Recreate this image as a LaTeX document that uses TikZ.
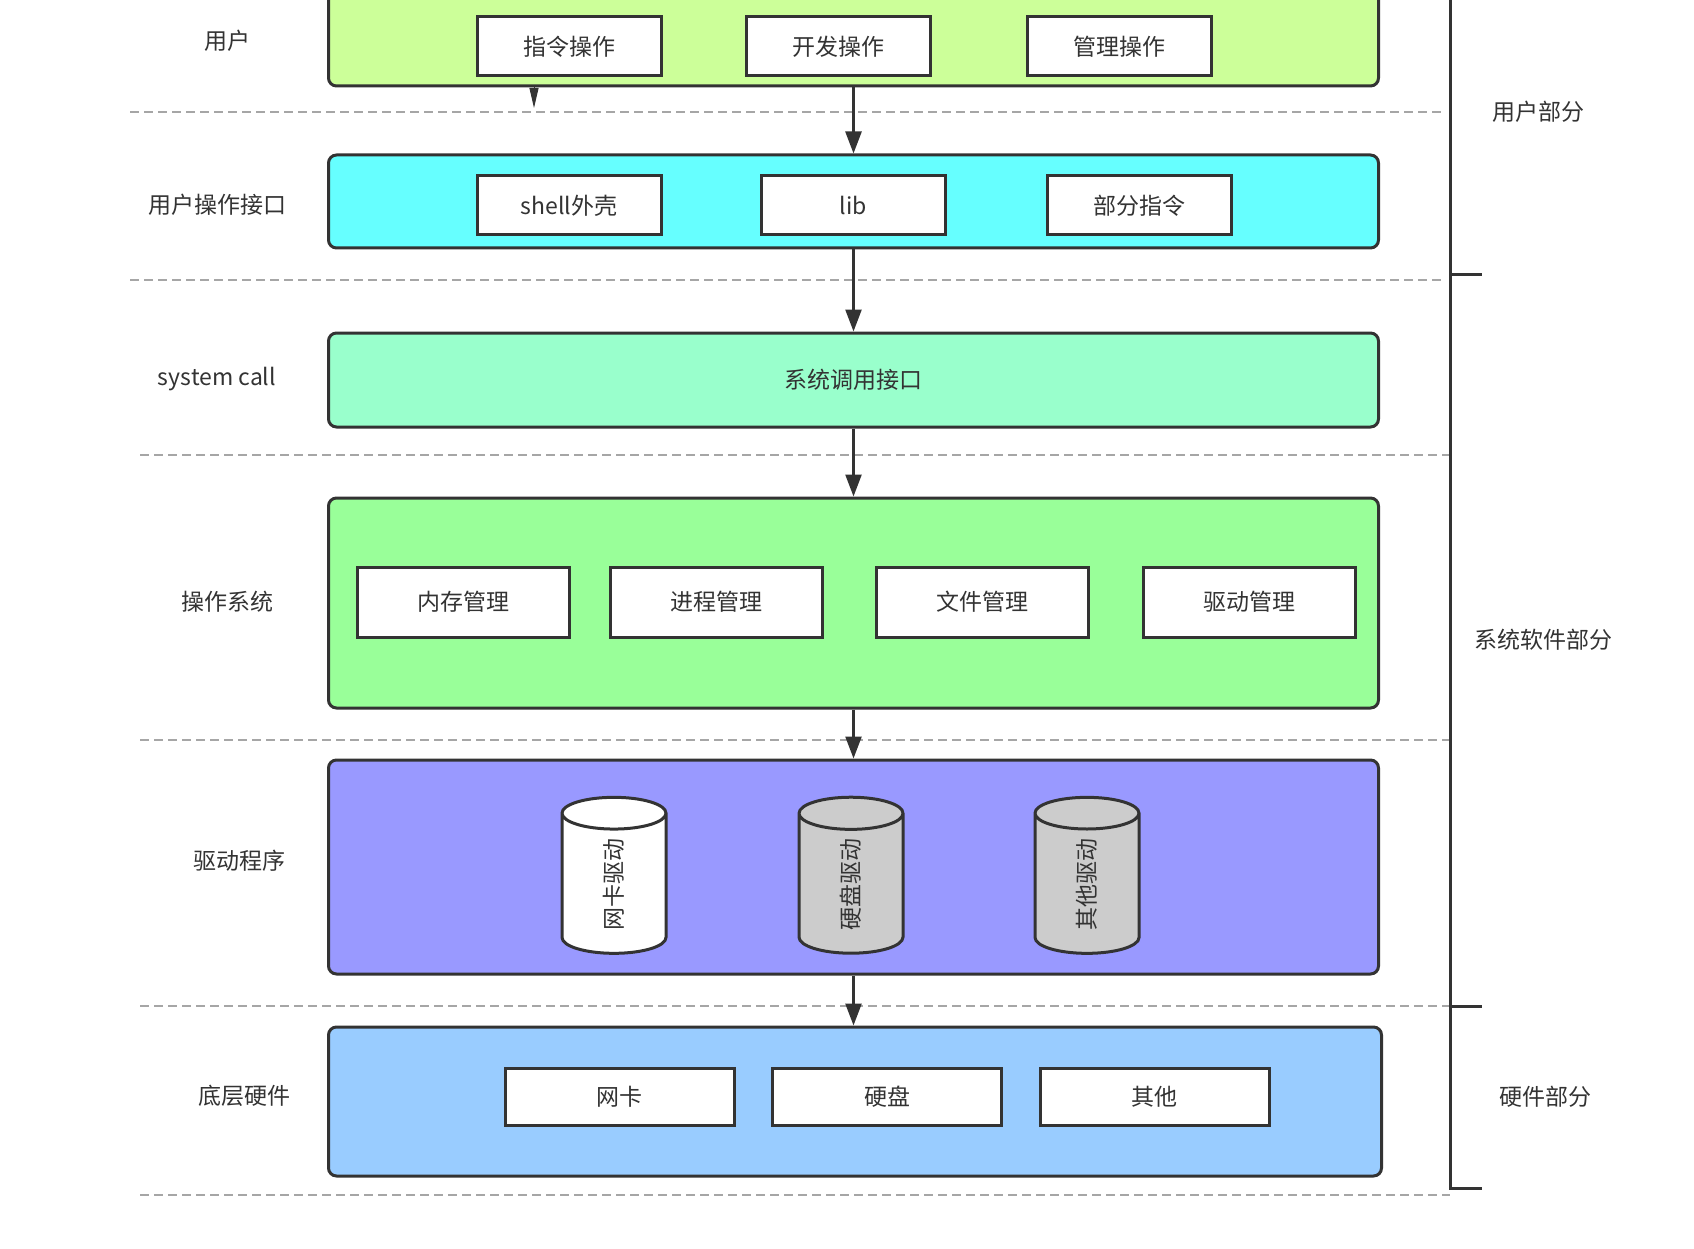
\documentclass[tikz,border=0pt]{standalone}
\usepackage{fontspec}
\setmainfont{Noto Sans CJK SC}
\usetikzlibrary{shapes.geometric,arrows.meta}
\definecolor{lineC}{HTML}{333333}
\definecolor{sepC}{HTML}{A6A6A6}
\definecolor{userC}{HTML}{CCFF99}
\definecolor{apiC}{HTML}{66FFFF}
\definecolor{callC}{HTML}{99FFCC}
\definecolor{osC}{HTML}{99FF99}
\definecolor{drvC}{HTML}{9999FF}
\definecolor{hwC}{HTML}{99CCFF}
\definecolor{drumC}{HTML}{CCCCCC}
\tikzset{
  layer/.style={draw=lineC, line width=3pt, rounded corners=8pt, minimum width=1050pt, inner sep=0pt},
  item/.style={draw=lineC, line width=3pt, fill=white, minimum width=184pt, minimum height=59pt, inner sep=0pt},
  drum/.style={cylinder, draw=lineC, line width=3pt, rotate=90, minimum width=104pt, minimum height=156pt, aspect=1.5, inner sep=0pt},
  sep/.style={draw=sepC, line width=2pt, dash pattern=on 9pt off 5pt},
  arr/.style={draw=lineC, line width=2.5pt, -{Triangle[length=22pt,width=16pt]}},
  brace/.style={draw=lineC, line width=3pt}
}
\begin{document}
\begin{tikzpicture}[x=1pt,y=-1pt, font=\fontsize{23}{28}\selectfont, every node/.style={text=lineC}]
\useasboundingbox (0,0) rectangle (1694,1249);
% ------ couches -----------
\node[layer, fill=userC, minimum height=98pt] (user) at (853.5,37) {};
\node[layer, fill=apiC, minimum height=93pt] (api) at (853.5,201.5) {};
\node[layer, fill=callC, minimum height=94pt] (call) at (853.5,380) {系统调用接口};
\node[layer, fill=osC, minimum height=210pt] (os) at (853.5,603) {};
\node[layer, fill=drvC, minimum height=214pt] (drv) at (853.5,867) {};
\node[layer, fill=hwC, minimum height=149pt, minimum width=1053pt] (hw) at (855,1101.5) {};
% ------ boites -----------
\node[item] (cmd) at (569,46.5) {指令操作};
\node[item] (dev) at (838,46.5) {开发操作};
\node[item] (adm) at (1119,46.5) {管理操作};
\node[item] (shell) at (569,205.5) {shell外壳};
\node[item] (lib) at (853,205.5) {lib};
\node[item] (part) at (1139,205.5) {部分指令};
\node[item, minimum width=212pt, minimum height=70pt] (mem) at (463,602) {内存管理};
\node[item, minimum width=212pt, minimum height=70pt] (proc) at (716,602) {进程管理};
\node[item, minimum width=212pt, minimum height=70pt] (file) at (982.5,602) {文件管理};
\node[item, minimum width=212pt, minimum height=70pt] (dmgr) at (1249,602) {驱动管理};
\node[drum, fill=white] (netdrv) at (614,884) {网卡驱动};
\node[drum, fill=drumC] (diskdrv) at (851,884) {硬盘驱动};
\node[drum, fill=drumC] (otherdrv) at (1087,884) {其他驱动};
\node[item, minimum width=229pt, minimum height=57pt] (net) at (619.5,1096.5) {网卡};
\node[item, minimum width=229pt, minimum height=57pt] (disk) at (887,1096.5) {硬盘};
\node[item, minimum width=229pt, minimum height=57pt] (other) at (1154.5,1096.5) {其他};
% ------ etiquettes -----------
\node (tUser) at (227,41) {用户};
\node (tApi) at (217,205) {用户操作接口};
\node (tCall) at (217,379) {system call};
\node (tOs) at (227,602) {操作系统};
\node (tDrv) at (239,861) {驱动程序};
\node (tHw) at (244,1096) {底层硬件};
\node (pUser) at (1538,112) {用户部分};
\node (pSys) at (1543,640) {系统软件部分};
\node (pHw) at (1545,1097) {硬件部分};
% ------ separations -----------
\foreach \y/\xa/\xb in {112/130/1441, 280/130/1441, 455/140/1450, 740/140/1450, 1006/140/1450, 1195/140/1450}
  \draw[sep] (\xa,\y) -- (\xb,\y);
% ------ fleches -----------
\draw[arr] (user) -- (api);
\draw[arr] (api) -- (call);
\draw[arr] (call) -- (os);
\draw[arr] (os) -- (drv);
\draw[arr] (drv.south -| os.south) -- (hw.north -| os.south);
\coordinate (stub) at (534,86);
\coordinate (stubtip) at (534,108);
\draw[draw=lineC, line width=1pt, -{Triangle[length=20pt,width=9pt]}] (stub) -- (stubtip);
% ------ accolade -----------
\coordinate (brTop) at (1450,0);
\coordinate (brBot) at (1450,1188);
\draw[brace] (brTop) -- (brBot) -- ++(32,0);
\draw[brace] (1450,275) -- ++(32,0);
\draw[brace] (1450,1006) -- ++(32,0);
\end{tikzpicture}
\end{document}
